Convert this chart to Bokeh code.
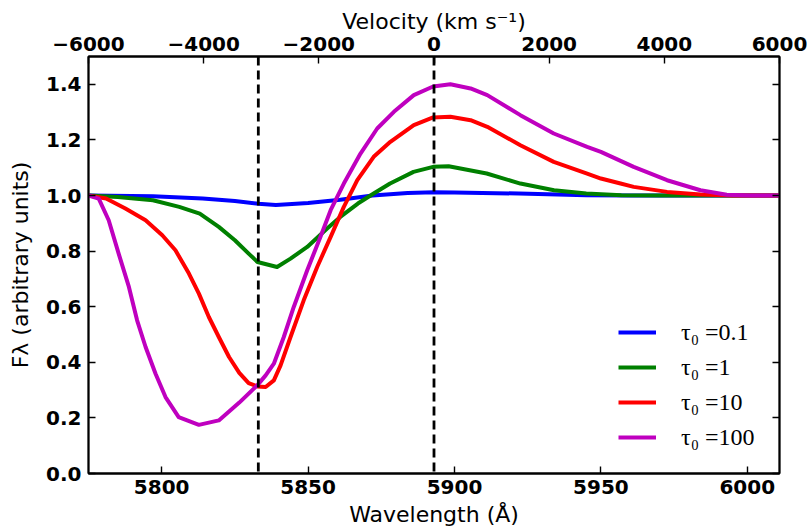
from bokeh.plotting import figure
from bokeh.models import (Range1d, LinearAxis, FixedTicker, Span,
                          Legend, LegendItem)
from bokeh.embed import file_html
from bokeh.resources import INLINE

# ---------------- data ----------------
lam_t01 = [5775, 5797, 5814, 5825, 5833, 5839, 5850, 5861, 5872, 5884,
           5893, 5900, 5922, 5945, 5960, 6011]
flux_t01 = [1.0, 0.997, 0.989, 0.980, 0.970, 0.966, 0.973, 0.985, 1.000,
            1.009, 1.012, 1.011, 1.007, 1.001, 1.0, 1.0]

lam_t1 = [5775, 5785, 5797, 5806, 5813, 5819.5, 5825, 5829.7, 5832.7,
          5839.4, 5844, 5849.7, 5856.5, 5861, 5867, 5872.4, 5878, 5886,
          5892.7, 5898, 5911, 5922.5, 5934, 5945, 5957, 5970, 6011]
flux_t1 = [1.0, 0.995, 0.983, 0.959, 0.935, 0.887, 0.839, 0.791, 0.761,
           0.743, 0.773, 0.815, 0.881, 0.923, 0.971, 1.007, 1.043, 1.085,
           1.103, 1.105, 1.079, 1.043, 1.019, 1.007, 1.001, 1.0, 1.0]

lam_t10 = [5775, 5781, 5787.6, 5794.5, 5800.2, 5804.7, 5809.3, 5812.7,
           5816.1, 5819.5, 5823, 5826.5, 5829.7, 5832.7, 5835.5, 5838.3,
           5840.6, 5844, 5848.5, 5853.1, 5857.7, 5862.2, 5866.8, 5872.4,
           5878.1, 5886.1, 5892.7, 5898.6, 5905.5, 5911.2, 5922.5, 5933.9,
           5945.3, 5950, 5956.7, 5961.2, 5972.6, 5984, 5995, 6011]
flux_t10 = [1.0, 0.989, 0.953, 0.911, 0.857, 0.803, 0.719, 0.647, 0.563,
            0.491, 0.419, 0.362, 0.325, 0.313, 0.311, 0.335, 0.389, 0.491,
            0.623, 0.743, 0.851, 0.959, 1.055, 1.139, 1.193, 1.253, 1.281,
            1.283, 1.271, 1.247, 1.181, 1.121, 1.079, 1.061, 1.043, 1.031,
            1.013, 1.004, 1.0, 1.0]

lam_t100 = [5775, 5778.5, 5781.9, 5785.3, 5788.8, 5791.6, 5794.5, 5797.9,
            5801.3, 5805.8, 5812.7, 5819.5, 5826.5, 5832.7, 5835.5, 5838.3,
            5841.7, 5845.1, 5849.7, 5854.2, 5857.7, 5862.2, 5867.9, 5873.6,
            5879.3, 5886.1, 5892.7, 5898.6, 5905.5, 5911.2, 5922.5, 5933.9,
            5945.3, 5950, 5961.2, 5972.6, 5984, 5993, 6001, 6011]
flux_t100 = [1.0, 0.989, 0.911, 0.791, 0.671, 0.551, 0.455, 0.359, 0.275,
             0.203, 0.175, 0.191, 0.255, 0.318, 0.353, 0.395, 0.491, 0.599,
             0.731, 0.851, 0.947, 1.043, 1.151, 1.241, 1.301, 1.361, 1.392,
             1.400, 1.385, 1.361, 1.289, 1.223, 1.175, 1.157, 1.103, 1.055,
             1.019, 1.003, 1.0, 1.0]

series_labels = ["τ₀ =0.1", "τ₀ =1", "τ₀ =10", "τ₀ =100"]
series_colors = ["#0000ff", "#008000", "#ff0000", "#bf00bf"]

x_ticks = [5800, 5850, 5900, 5950, 6000]
v_ticks = [-6000, -4000, -2000, 0, 2000, 4000, 6000]
y_ticks = [0.0, 0.2, 0.4, 0.6, 0.8, 1.0, 1.2, 1.4]
y_tick_labels = ["0.0", "0.2", "0.4", "0.6", "0.8", "1.0", "1.2", "1.4"]
dashed_lambda = [5833, 5893]

lam_range = (5775, 6011)
vel_range = (-6000, 6000)
flux_range = (0.0, 1.5)

# ---------------- figure ----------------
W, H = 807, 531
p = figure(width=W, height=H, output_backend="svg", toolbar_location=None,
           x_range=Range1d(*lam_range), y_range=Range1d(*flux_range),
           x_axis_label="Wavelength (Å)",
           y_axis_label="Fλ (arbitrary units)")
p.min_border_left = 88
p.min_border_right = 28
p.min_border_top = 56
p.min_border_bottom = 58
p.xgrid.visible = False
p.ygrid.visible = False
p.outline_line_color = "black"
p.outline_line_width = 1.8
p.background_fill_color = "white"
p.border_fill_color = "white"

p.extra_x_ranges = {"vel": Range1d(*vel_range)}

tick_font = "DejaVu Sans"
tick_size = "20px"
label_size = "22px"


def style_axis(ax):
    ax.axis_line_color = "black"
    ax.axis_line_width = 1.8
    ax.major_tick_in = 7
    ax.major_tick_out = 0
    ax.major_tick_line_width = 1.4
    ax.minor_tick_in = 0
    ax.minor_tick_out = 0
    ax.major_label_text_font = tick_font
    ax.major_label_text_font_size = tick_size
    ax.major_label_text_font_style = "bold"
    ax.major_label_text_color = "black"
    ax.axis_label_text_font = "DejaVu Sans"
    ax.axis_label_text_font_size = label_size
    ax.axis_label_text_font_style = "normal"
    ax.axis_label_text_color = "black"


# bottom axis
xa = p.xaxis[0]
xa.ticker = FixedTicker(ticks=x_ticks)
style_axis(xa)
xa.major_label_standoff = 6
xa.axis_label_standoff = 5

# left axis
ya = p.yaxis[0]
ya.ticker = FixedTicker(ticks=y_ticks)
ya.major_label_overrides = {t: s for t, s in zip(y_ticks, y_tick_labels)}
style_axis(ya)
ya.major_label_standoff = 7
ya.axis_label_standoff = 10

# top axis (velocity)
top = LinearAxis(x_range_name="vel", axis_label="Velocity (km s⁻¹)")
top.ticker = FixedTicker(ticks=v_ticks)
top.major_label_overrides = {t: str(t).replace("-", "−") for t in v_ticks}
style_axis(top)
top.major_label_standoff = 6
top.axis_label_standoff = 0
p.add_layout(top, "above")

# right axis (ticks only, no labels)
right = LinearAxis()
right.ticker = FixedTicker(ticks=y_ticks)
style_axis(right)
right.major_label_overrides = {t: "" for t in y_ticks}
right.major_label_standoff = 0
p.add_layout(right, "right")

# vertical dashed lines
for lam in dashed_lambda:
    p.add_layout(Span(location=lam, dimension="height", line_color="black",
                      line_width=2.8, line_dash="9 5"))

# spectra
renderers = []
for lam, flux, col in zip([lam_t01, lam_t1, lam_t10, lam_t100],
                          [flux_t01, flux_t1, flux_t10, flux_t100],
                          series_colors):
    r = p.line(lam, flux, line_color=col, line_width=4, line_join="round")
    renderers.append(r)

legend = Legend(items=[LegendItem(label=lab, renderers=[r])
                       for lab, r in zip(series_labels, renderers)],
                location=(530, 22))
legend.border_line_color = None
legend.background_fill_alpha = 0
legend.padding = 0
legend.margin = 0
legend.spacing = 7
legend.glyph_width = 38
legend.glyph_height = 28
legend.label_height = 28
legend.label_standoff = 25
legend.label_text_font = "Liberation Serif"
legend.label_text_font_size = "24px"
legend.label_text_color = "black"
p.add_layout(legend, "center")

open("out.html", "w").write(file_html(p, INLINE))
